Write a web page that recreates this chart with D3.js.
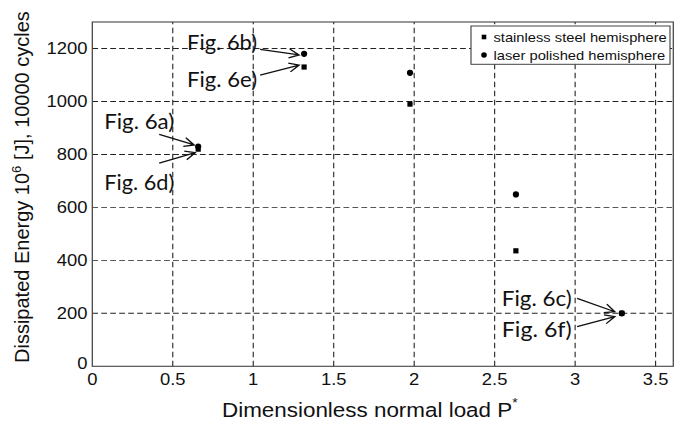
<!DOCTYPE html>
<html>
<head>
<meta charset="utf-8">
<script src="https://cdn.jsdelivr.net/npm/d3@7"></script>
<style>
  html, body { margin: 0; padding: 0; background: #fff; }
  svg { display: block; }
  .tick-label { font-family: "Liberation Sans", Arial, sans-serif; font-size: 16px; fill: #111; }
  .axis-title { font-family: "Liberation Sans", Arial, sans-serif; fill: #111; }
  .note { font-family: Lato, "Open Sans", sans-serif; font-size: 21px; fill: #111; }
  .legend-text { font-family: "Liberation Sans", Arial, sans-serif; font-size: 12.8px; fill: #111; }
</style>
</head>
<body>
<svg id="chart"></svg>
<script>
// Data
const loads = [0.658, 1.316, 1.974, 2.632, 3.29];
const steelEnergy = [820, 1130, 990, 436, 200];
const laserEnergy = [830, 1180, 1108, 649, 200];
const seriesNames = ["stainless steel hemisphere", "laser polished hemisphere"];
const xTicks = [0, 0.5, 1, 1.5, 2, 2.5, 3, 3.5];
const yTicks = [0, 200, 400, 600, 800, 1000, 1200];
const noteLabels = ["Fig. 6a)", "Fig. 6b)", "Fig. 6c)", "Fig. 6d)", "Fig. 6e)", "Fig. 6f)"];
const noteSeries = [1, 1, 1, 0, 0, 0];   // 0 = steel, 1 = laser
const noteIndex = [0, 1, 4, 0, 1, 4];

// Layout of the annotations (screen px, relative to the target point)
const noteLayout = [
  { tx: -94,  ty: -17, sx: -39,   sy: -12,  ex: -4, ey: -1.5 },
  { tx: -117, ty: -4,  sx: -44,   sy: -4.5, ex: -5, ey: 1.2 },
  { tx: -120, ty: -7,  sx: -44.7, sy: -15,  ex: -7, ey: -1.6 },
  { tx: -94,  ty: 41,  sx: -39,   sy: 14,   ex: -3, ey: 3.6 },
  { tx: -117, ty: 20,  sx: -44,   sy: 8,    ex: -5, ey: -2 },
  { tx: -120, ty: 24,  sx: -44.7, sy: 13.4, ex: -7, ey: 3.4 }
];

// The original picture is stretched horizontally
const W = 683, H = 427, SX = 1.15, VW = W / SX;
const ux = v => v / SX;

const svg = d3.select("#chart")
  .attr("width", W).attr("height", H)
  .attr("viewBox", `0 0 ${VW} ${H}`)
  .attr("preserveAspectRatio", "none");

svg.append("rect").attr("width", VW).attr("height", H).attr("fill", "#fff");

const x = d3.scaleLinear().domain([0, 3.61]).range([ux(92.3), ux(673.3)]);
const y = d3.scaleLinear().domain([0, 1300]).range([366.3, 22]);

// Сітка
const grid = svg.append("g").attr("stroke", "#222").attr("stroke-width", 0.95);
grid.selectAll(".gx").data(xTicks.filter(t => t > 0)).enter().append("line")
  .attr("x1", d => x(d)).attr("x2", d => x(d))
  .attr("y1", y(0)).attr("y2", y(1300))
  .attr("stroke-dasharray", "5.5,3.5");
grid.selectAll(".gy").data(yTicks.filter(t => t > 0)).enter().append("line")
  .attr("x1", x(0)).attr("x2", x(3.61))
  .attr("y1", d => y(d)).attr("y2", d => y(d))
  .attr("stroke-dasharray", "5,2.8");

// Рамка
svg.append("rect")
  .attr("x", x(0)).attr("y", y(1300))
  .attr("width", x(3.61) - x(0)).attr("height", y(0) - y(1300))
  .attr("fill", "none").attr("stroke", "#444").attr("stroke-width", 1.1);

// Tick labels
svg.selectAll(".xl").data(xTicks).enter().append("text")
  .attr("class", "tick-label")
  .attr("x", d => x(d)).attr("y", 385)
  .attr("text-anchor", "middle")
  .text(d => d);
svg.selectAll(".yl").data(yTicks).enter().append("text")
  .attr("class", "tick-label")
  .attr("x", ux(87.5)).attr("y", d => d === 0 ? y(d) - 3 : y(d))
  .attr("dy", "0.36em")
  .attr("text-anchor", "end")
  .text(d => d);

// Axis titles
const xt = svg.append("text").attr("class", "axis-title")
  .attr("x", ux(222)).attr("y", 417).style("font-size", "19.5px");
xt.append("tspan").text("Dimensionless normal load P");
xt.append("tspan").attr("dy", -10).style("font-size", "12px").text("*");

const yt = svg.append("text").attr("class", "axis-title")
  .attr("transform", `translate(${ux(29)},363) scale(${1 / SX},1) rotate(-90)`)
  .style("font-size", "20px");
yt.append("tspan").text("Dissipated Energy 10");
yt.append("tspan").attr("dy", -8).style("font-size", "13px").text("6");
yt.append("tspan").attr("dy", 8).text(" [J], 10000 cycles");

// Points
const steel = loads.map((l, i) => ({ x: l, y: steelEnergy[i] }));
const laser = loads.map((l, i) => ({ x: l, y: laserEnergy[i] }));
const series = [steel, laser];

svg.selectAll(".sq").data(steel).enter().append("rect")
  .attr("x", d => x(d.x) - ux(2.6)).attr("y", d => y(d.y) - 2.6)
  .attr("width", ux(5.2)).attr("height", 5.2)
  .attr("fill", "#000");
svg.selectAll(".ci").data(laser).enter().append("ellipse")
  .attr("cx", d => x(d.x)).attr("cy", d => y(d.y))
  .attr("rx", ux(3.1)).attr("ry", 3.1)
  .attr("fill", "#000");

// Annotations
noteLabels.forEach((label, i) => {
  const p = series[noteSeries[i]][noteIndex[i]];
  const px = x(p.x) * SX, py = y(p.y);   // screen px
  const L = noteLayout[i];
  svg.append("text").attr("class", "note")
    .attr("x", ux(px + L.tx)).attr("y", py + L.ty)
    .attr("textLength", ux(70))
    .attr("lengthAdjust", "spacingAndGlyphs")
    .text(label);

  const x1 = px + L.sx, y1 = py + L.sy, x2 = px + L.ex, y2 = py + L.ey;
  const a = Math.atan2(y2 - y1, x2 - x1);
  const len = 11, spread = 0.42;
  const w1 = [x2 - len * Math.cos(a - spread), y2 - len * Math.sin(a - spread)];
  const w2 = [x2 - len * Math.cos(a + spread), y2 - len * Math.sin(a + spread)];
  const path = d3.path();
  path.moveTo(ux(x1), y1); path.lineTo(ux(x2), y2);
  path.moveTo(ux(w1[0]), w1[1]); path.lineTo(ux(x2), y2); path.lineTo(ux(w2[0]), w2[1]);
  svg.append("path").attr("d", path.toString())
    .attr("fill", "none").attr("stroke", "#111").attr("stroke-width", 1.3);
});

// Legend
const lg = svg.append("g");
lg.append("rect")
  .attr("x", ux(471)).attr("y", 26)
  .attr("width", ux(199)).attr("height", 38.3)
  .attr("fill", "#fff").attr("stroke", "#444").attr("stroke-width", 1);
lg.append("rect")
  .attr("x", ux(484) - ux(2.3)).attr("y", 37 - 2.3)
  .attr("width", ux(4.6)).attr("height", 4.6).attr("fill", "#000");
lg.append("ellipse")
  .attr("cx", ux(484)).attr("cy", 55)
  .attr("rx", ux(2.8)).attr("ry", 2.8).attr("fill", "#000");
lg.selectAll(".lt").data(seriesNames).enter().append("text")
  .attr("class", "legend-text")
  .attr("x", ux(493.5)).attr("y", (d, i) => 42.3 + i * 17.7)
  .text(d => d);
</script>
</body>
</html>
